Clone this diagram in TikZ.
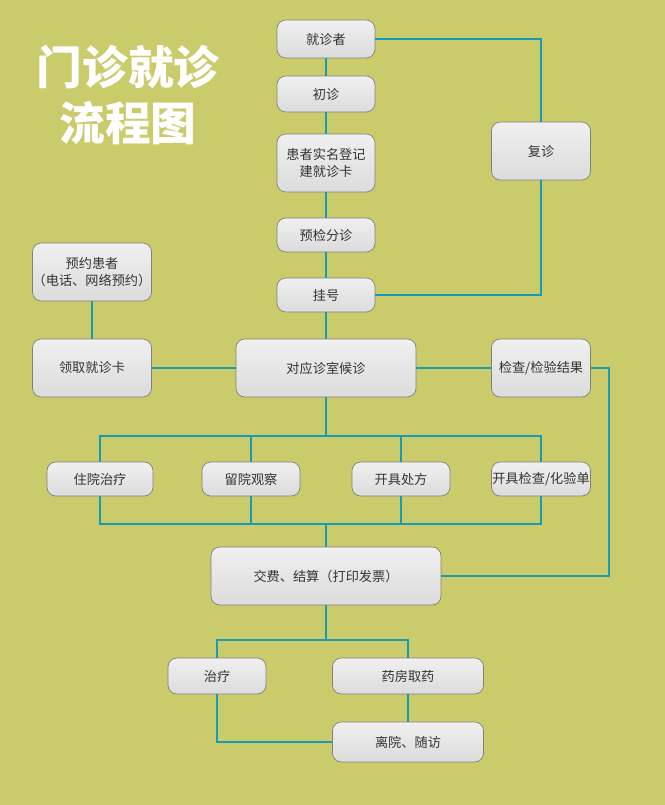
\documentclass[tikz,border=0pt]{standalone}
\usepackage{fontspec}
\setmainfont{Noto Sans CJK SC}
\definecolor{bgolive}{RGB}{202, 203, 106}
\definecolor{linkteal}{RGB}{26, 155, 181}
\definecolor{boxedge}{RGB}{128, 128, 128}
\tikzstyle{block} = [rectangle, draw=boxedge, top color=gray!12, bottom color=gray!28,
    text=black!80, align=center, rounded corners=5pt, font=\fontsize{7.5}{10}\selectfont,
    inner sep=0pt]
\tikzstyle{line} = [draw=linkteal, line width=1.3pt]

\begin{document}
\begin{tikzpicture}[x=0.02cm, y=-0.02cm]
  \fill[bgolive] (0,0) rectangle (665,805);
  \node [text=white, font=\fontsize{26}{32}\bfseries\selectfont, align=center] (title) at (128,95) {门诊就诊\\流程图};
  \node [block, minimum width=98*0.02cm, minimum height=38*0.02cm] (visit) at (326,39) {就诊者};
  \node [block, minimum width=98*0.02cm, minimum height=36*0.02cm] (first) at (326,94) {初诊};
  \node [block, minimum width=98*0.02cm, minimum height=58*0.02cm] (register) at (326,163) {患者实名登记\\建就诊卡};
  \node [block, minimum width=98*0.02cm, minimum height=34*0.02cm] (triage) at (326,235) {预检分诊};
  \node [block, minimum width=98*0.02cm, minimum height=34*0.02cm] (ticket) at (326,295) {挂号};
  \node [block, minimum width=99*0.02cm, minimum height=58*0.02cm] (revisit) at (541,151) {复诊};
  \node [block, minimum width=119*0.02cm, minimum height=58*0.02cm] (booked) at (92,272) {预约患者\\（电话、网络预约）};
  \node [block, minimum width=119*0.02cm, minimum height=58*0.02cm] (card) at (92,368) {领取就诊卡};
  \node [block, minimum width=180*0.02cm, minimum height=58*0.02cm] (wait) at (326,368) {对应诊室候诊};
  \node [block, minimum width=99*0.02cm, minimum height=58*0.02cm] (result) at (541,368) {检查/检验结果};
  \node [block, minimum width=106*0.02cm, minimum height=34*0.02cm] (inpatient) at (100,479) {住院治疗};
  \node [block, minimum width=98*0.02cm, minimum height=34*0.02cm] (observe) at (251,479) {留院观察};
  \node [block, minimum width=98*0.02cm, minimum height=34*0.02cm] (prescribe) at (401,479) {开具处方};
  \node [block, minimum width=99*0.02cm, minimum height=34*0.02cm] (order) at (541,479) {开具检查/化验单};
  \node [block, minimum width=230*0.02cm, minimum height=58*0.02cm] (pay) at (326,576) {交费、结算（打印发票）};
  \node [block, minimum width=98*0.02cm, minimum height=36*0.02cm] (treat) at (217,676) {治疗};
  \node [block, minimum width=151*0.02cm, minimum height=36*0.02cm] (pharmacy) at (408,676) {药房取药};
  \node [block, minimum width=151*0.02cm, minimum height=40*0.02cm] (leave) at (408,742) {离院、随访};
  \coordinate (split) at (326,436);
  \coordinate (merge) at (326,524);
  \coordinate (fork) at (326,640);
  \path [line] (visit) -- (first);
  \path [line] (first) -- (register);
  \path [line] (register) -- (triage);
  \path [line] (triage) -- (ticket);
  \path [line] (ticket) -- (wait);
  \path [line] (visit.east) -| (revisit.north);
  \path [line] (revisit.south) |- (ticket.east);
  \path [line] (booked) -- (card);
  \path [line] (card) -- (wait);
  \path [line] (wait) -- (result);
  \path [line] (result.east) -| (609,476) |- (pay.east);
  \path [line] (wait) -- (split);
  \path [line] (inpatient.north) |- (split) -| (order.north);
  \path [line] (observe.north) |- (split) -| (prescribe.north);
  \path [line] (inpatient.south) |- (merge) -| (order.south);
  \path [line] (observe.south) |- (merge) -| (prescribe.south);
  \path [line] (merge) -- (pay);
  \path [line] (pay) -- (fork);
  \path [line] (treat.north) |- (fork) -| (pharmacy.north);
  \path [line] (pharmacy) -- (leave);
  \path [line] (treat.south) |- (leave.west);
\end{tikzpicture}
\end{document}
